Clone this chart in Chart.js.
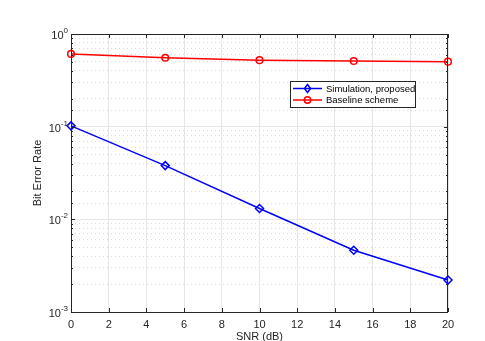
<!DOCTYPE html>
<html>
<head>
<meta charset="utf-8">
<script src="https://cdn.jsdelivr.net/npm/chart.js@4.4.0/dist/chart.umd.min.js"></script>
<style>
  html, body { margin: 0; padding: 0; background: #fff; }
  #wrap { width: 485px; height: 341px; }
</style>
</head>
<body>
<div id="wrap"><canvas id="myChart" width="485" height="341"></canvas></div>
<script>
const snr = [0, 5, 10, 15, 20];
const berProposed = [0.102, 0.038, 0.0131, 0.00464, 0.00221];
const berBaseline = [0.61, 0.555, 0.522, 0.512, 0.503];
const xTicks = [0, 2, 4, 6, 8, 10, 12, 14, 16, 18, 20];
const yDecades = [0, -1, -2, -3];

const font = "'Liberation Sans', Arial, sans-serif";
const textColor = '#262626';

function isMajor(v) {
	const l = Math.log10(v);
	return Math.abs(l - Math.round(l)) < 1e-6;
}

const matlabAxes = {
	id: 'matlabAxes',
	afterDraw(chart) {
		const c = chart.ctx;
		const a = chart.chartArea;
		const xs = chart.scales.x;
		const ys = chart.scales.y;
		c.save();
		// box
		c.strokeStyle = '#262626';
		c.lineWidth = 1;
		c.strokeRect(a.left + 0.5, a.top + 0.5, a.right - a.left - 1, a.bottom - a.top);
		// inward ticks
		c.beginPath();
		xTicks.forEach(v => {
			const px = Math.round(xs.getPixelForValue(v)) + 0.5;
			c.moveTo(px, a.bottom); c.lineTo(px, a.bottom - 4);
			c.moveTo(px, a.top); c.lineTo(px, a.top + 4);
		});
		ys.ticks.forEach(t => {
			const py = Math.round(ys.getPixelForValue(t.value)) + 0.5;
			const len = isMajor(t.value) ? 4 : 2;
			c.moveTo(a.left, py); c.lineTo(a.left + len, py);
			c.moveTo(a.right, py); c.lineTo(a.right - len, py);
		});
		c.stroke();
		// y tick labels with exponent
		c.fillStyle = textColor;
		c.textBaseline = 'alphabetic';
		yDecades.forEach(e => {
			const py = ys.getPixelForValue(Math.pow(10, e));
			const exp = String(e);
			c.font = '8px ' + font;
			const ew = c.measureText(exp).width;
			c.textAlign = 'left';
			const ex = a.left - 3 - ew;
			c.fillText(exp, ex, py - 1);
			c.font = '11px ' + font;
			c.textAlign = 'right';
			c.fillText('10', ex, py + 5);
		});
		// legend
		const lx = 290, ly = 81, lw = 125, lh = 26;
		c.fillStyle = '#fff';
		c.fillRect(lx, ly, lw, lh);
		c.strokeStyle = '#262626';
		c.strokeRect(lx + 0.5, ly + 0.5, lw, lh);
		c.font = '9.5px ' + font;
		c.textAlign = 'left';
		c.textBaseline = 'middle';
		chart.data.datasets.forEach((ds, i) => {
			const y = ly + 7.5 + i * 11.5;
			c.strokeStyle = ds.borderColor;
			c.lineWidth = 1.5;
			c.beginPath();
			c.moveTo(lx + 3, y); c.lineTo(lx + 32, y);
			c.stroke();
			c.beginPath();
			if (ds.pointStyle === 'rectRot') {
				c.moveTo(lx + 17.5, y - 4); c.lineTo(lx + 20.5, y);
				c.lineTo(lx + 17.5, y + 4); c.lineTo(lx + 14.5, y);
				c.closePath();
			} else {
				c.arc(lx + 17.5, y, 3.2, 0, Math.PI * 2);
			}
			c.stroke();
			c.fillStyle = '#000';
			c.fillText(ds.label, lx + 36, y + 0.5);
		});
		c.restore();
	}
};

const ctx = document.getElementById('myChart');
new Chart(ctx, {
	type: 'line',
	data: {
		datasets: [{
			label: 'Simulation, proposed',
			data: snr.map((x, i) => ({ x: x, y: berProposed[i] })),
			borderColor: '#0000ff',
			backgroundColor: 'transparent',
			borderWidth: 1.5,
			lineTension: 0,
			pointStyle: 'rectRot',
			pointRadius: 4,
			pointBorderWidth: 1.5,
			pointBackgroundColor: 'transparent',
			pointBorderColor: '#0000ff',
		},
		{
			label: 'Baseline scheme',
			data: snr.map((x, i) => ({ x: x, y: berBaseline[i] })),
			borderColor: '#ff0000',
			backgroundColor: 'transparent',
			borderWidth: 1.5,
			lineTension: 0,
			pointStyle: 'circle',
			pointRadius: 3.3,
			pointBorderWidth: 1.5,
			pointBackgroundColor: 'transparent',
			pointBorderColor: '#ff0000',
		}]
	},
	options: {
		responsive: false,
		animation: false,
		events: [],
		clip: false,
		plugins: {
			legend: { display: false },
			title: { display: false },
			tooltip: { enabled: false }
		},
		layout: {
			padding: { left: 0, top: 34, right: 37, bottom: 0 }
		},
		scales: {
			x: {
				type: 'linear',
				min: 0,
				max: 20,
				afterFit: (s) => { s.height = 29; },
				afterBuildTicks: (s) => { s.ticks = xTicks.map(v => ({ value: v })); },
				grid: { color: '#e6e6e6', lineWidth: 1, drawTicks: false },
				border: { display: false },
				ticks: {
					color: textColor,
					padding: 6,
					maxRotation: 0,
					autoSkip: false,
					font: { family: font, size: 11 }
				},
				title: {
					display: true,
					text: 'SNR (dB)',
					color: textColor,
					padding: { top: 1, bottom: -3 },
					font: { family: font, size: 11 }
				}
			},
			y: {
				type: 'logarithmic',
				min: 0.001,
				max: 1,
				afterFit: (s) => { s.width = 71; },
				grid: {
					drawTicks: false,
					lineWidth: 1,
					color: (c) => (c.tick && !isMajor(c.tick.value)) ? '#dcdcdc' : '#e6e6e6'
				},
				border: {
					display: false,
					dash: (c) => (c.tick && !isMajor(c.tick.value)) ? [1, 3] : []
				},
				ticks: {
					autoSkip: false,
					color: 'transparent',
					callback: () => '',
					font: { family: font, size: 11 }
				},
				title: {
					display: true,
					text: 'Bit Error Rate',
					color: textColor,
					padding: { top: 31, bottom: 0 },
					font: { family: font, size: 11 }
				}
			}
		}
	},
	plugins: [matlabAxes]
});
</script>
</body>
</html>
